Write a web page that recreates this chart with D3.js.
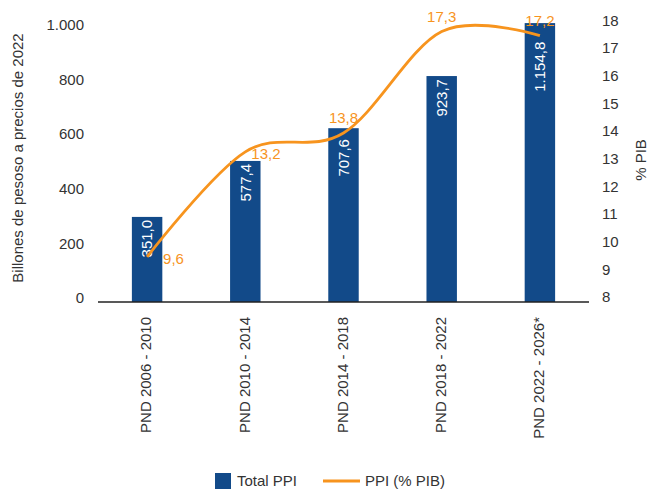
<!DOCTYPE html>
<html>
<head>
<meta charset="utf-8">
<script src="https://cdn.jsdelivr.net/npm/d3@7"></script>
<style>
  body { margin: 0; background: #fff; }
  text { font-family: "Liberation Sans", Arial, sans-serif; fill: #333; }
</style>
</head>
<body>
<div id="chart"></div>
<script>
// categories and series
const periods = ["PND 2006 - 2010", "PND 2010 - 2014", "PND 2014 - 2018", "PND 2018 - 2022", "PND 2022 - 2026*"];
const totalPPI = [297, 502, 622, 813, 1007];          // bar heights as drawn
const totalPPILabels = ["351,0", "577,4", "707,6", "923,7", "1.154,8"];
const ppiPIB = [9.45, 13.25, 13.93, 17.6, 17.45];      // line as drawn
const ppiPIBLabels = ["9,6", "13,2", "13,8", "17,3", "17,2"];
const leftTicks = [0, 200, 400, 600, 800, 1000];
const leftTickLabels = ["0", "200", "400", "600", "800", "1.000"];
const rightTicks = [8, 9, 10, 11, 12, 13, 14, 15, 16, 17, 18];

const width = 649, height = 490;
const blue = "#124a89", orange = "#f7941e";

const svg = d3.select("#chart").append("svg")
    .attr("width", width)
    .attr("height", height);

// scales
const x = d3.scaleBand().domain(periods).range([98, 589]).paddingInner(0.69).paddingOuter(0.345);
const yL = d3.scaleLinear().domain([0, 1000]).range([298, 25]);
const yR = d3.scaleLinear().domain([8, 18]).range([297, 20.5]);
const base = yL(0) + 4;
const cx = i => x(periods[i]) + x.bandwidth() / 2;

// bars
svg.append("g").selectAll("rect")
    .data(totalPPI)
    .join("rect")
    .attr("x", (d, i) => x(periods[i]))
    .attr("y", d => yL(d))
    .attr("width", x.bandwidth())
    .attr("height", d => base - yL(d))
    .attr("fill", blue);

// bar labels, pushed below the line when it crosses the bar top
function labelTop(d, i) {
    const top = yL(d), ly = yR(ppiPIB[i]);
    let t = top + 3;
    if (ly > top - 10 && ly < top + 20) t = Math.max(t, ly + 6);
    return t;
}

svg.append("g").selectAll("text")
    .data(totalPPI)
    .join("text")
    .attr("transform", (d, i) => `translate(${cx(i)},${labelTop(d, i)}) rotate(-90)`)
    .attr("text-anchor", "end")
    .attr("dy", "0.35em")
    .style("fill", "#fff")
    .style("font-size", "15px")
    .text((d, i) => totalPPILabels[i]);

// x axis line
svg.append("line")
    .attr("x1", 98).attr("x2", 589)
    .attr("y1", base).attr("y2", base)
    .attr("stroke", "#222").attr("stroke-width", 1.5);

// x labels
svg.append("g").selectAll("text")
    .data(periods)
    .join("text")
    .attr("transform", (d, i) => `translate(${cx(i) - 1},317) rotate(-90)`)
    .attr("text-anchor", "end")
    .attr("dy", "0.35em")
    .style("font-size", "15px")
    .text(d => d);

// left axis
svg.append("g").selectAll("text")
    .data(leftTicks)
    .join("text")
    .attr("x", 84)
    .attr("y", d => yL(d))
    .attr("dy", "0.35em")
    .attr("text-anchor", "end")
    .style("font-size", "15px")
    .text((d, i) => leftTickLabels[i]);

svg.append("text")
    .attr("transform", "translate(18,158) rotate(-90)")
    .attr("text-anchor", "middle")
    .attr("dy", "0.35em")
    .style("font-size", "15px")
    .text("Billones de pesoso a precios de 2022");

// right axis
svg.append("g").selectAll("text")
    .data(rightTicks)
    .join("text")
    .attr("x", 602)
    .attr("y", d => yR(d))
    .attr("dy", "0.35em")
    .style("font-size", "15px")
    .text(d => d);

svg.append("text")
    .attr("transform", "translate(641,160) rotate(-90)")
    .attr("text-anchor", "middle")
    .attr("dy", "0.35em")
    .style("font-size", "15px")
    .text("% PIB");

// line
const line = d3.line()
    .x((d, i) => cx(i))
    .y(d => yR(d))
    .curve(d3.curveCardinal.tension(0));

svg.append("path")
    .datum(ppiPIB)
    .attr("d", line)
    .attr("fill", "none")
    .attr("stroke", orange)
    .attr("stroke-width", 2.8);

// line labels: first two to the right, rest above
svg.append("g").selectAll("text")
    .data(ppiPIB)
    .join("text")
    .attr("x", (d, i) => cx(i) + (i === 0 ? 16 : i === 1 ? 6 : 0))
    .attr("y", (d, i) => i < 2 ? yR(d) + 2 : yR(d) - 15)
    .attr("dy", "0.35em")
    .attr("text-anchor", (d, i) => i < 2 ? "start" : "middle")
    .style("fill", orange)
    .style("font-size", "15px")
    .text((d, i) => ppiPIBLabels[i]);

// legend
const leg = svg.append("g").attr("transform", "translate(0,481)");
leg.append("rect").attr("x", 215).attr("y", -8).attr("width", 16).attr("height", 16).attr("fill", blue);
leg.append("text").attr("x", 237).attr("dy", "0.35em").style("font-size", "15px").text("Total PPI");
leg.append("line").attr("x1", 323).attr("x2", 360).attr("stroke", orange).attr("stroke-width", 2.8);
leg.append("text").attr("x", 365).attr("dy", "0.35em").style("font-size", "15px").text("PPI (% PIB)");
</script>
</body>
</html>
